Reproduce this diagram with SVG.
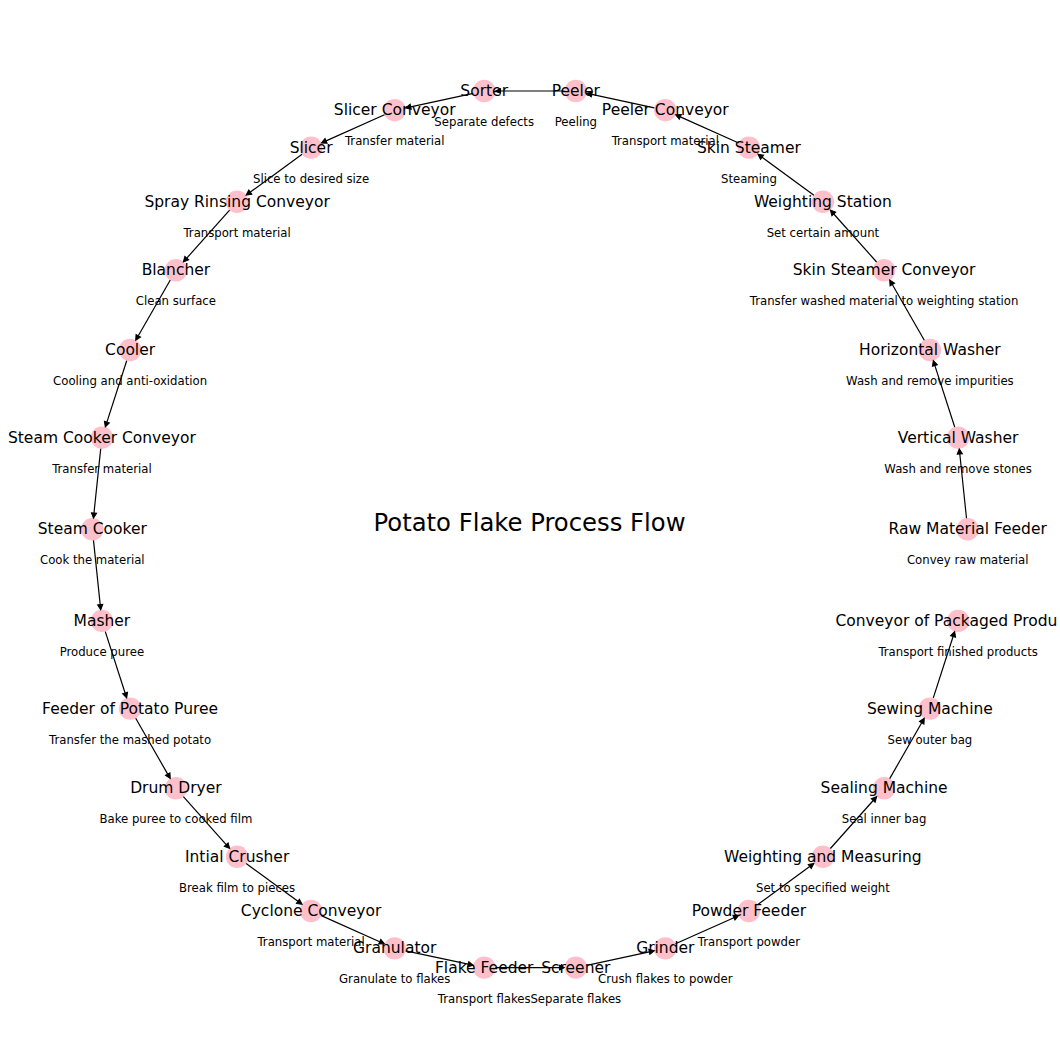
<svg xmlns="http://www.w3.org/2000/svg" width="1060" height="1060" viewBox="0 0 1060 1060">
<style>
.node circle{fill:#ffc0cb;stroke:none}
.name{font-family:"DejaVu Sans",sans-serif;font-size:15.5px;fill:#000;text-anchor:middle;dominant-baseline:central}
.desc{font-family:"DejaVu Sans",sans-serif;font-size:11.7px;fill:#000;text-anchor:middle;dominant-baseline:central}
.title{font-family:"DejaVu Sans",sans-serif;font-size:24.3px;fill:#000;text-anchor:middle;dominant-baseline:central}
#edges line{stroke:#000;stroke-width:1.2;marker-end:url(#arr)}
</style>
<defs>
<marker id="arr" markerUnits="userSpaceOnUse" markerWidth="8" markerHeight="8" viewBox="-1 -4 8 8" refX="0" refY="0" orient="auto" overflow="visible">
<path d="M0,-2.6 L5.2,0 L0,2.6 z" fill="#000" stroke="#000" stroke-width="1" stroke-linejoin="miter"/>
</marker>
</defs>
<rect width="1060" height="1060" fill="#fff"/>
<g id="nodes-circles">
<g class="node" id="n0"><circle cx="967.7" cy="529.3" r="11.2"/></g>
<g class="node" id="n1"><circle cx="958.1" cy="437.7" r="11.2"/></g>
<g class="node" id="n2"><circle cx="929.9" cy="350.0" r="11.2"/></g>
<g class="node" id="n3"><circle cx="884.1" cy="270.3" r="11.2"/></g>
<g class="node" id="n4"><circle cx="822.9" cy="201.8" r="11.2"/></g>
<g class="node" id="n5"><circle cx="748.9" cy="147.6" r="11.2"/></g>
<g class="node" id="n6"><circle cx="665.3" cy="110.2" r="11.2"/></g>
<g class="node" id="n7"><circle cx="575.8" cy="91.0" r="11.2"/></g>
<g class="node" id="n8"><circle cx="484.2" cy="91.0" r="11.2"/></g>
<g class="node" id="n9"><circle cx="394.7" cy="110.2" r="11.2"/></g>
<g class="node" id="n10"><circle cx="311.1" cy="147.6" r="11.2"/></g>
<g class="node" id="n11"><circle cx="237.1" cy="201.8" r="11.2"/></g>
<g class="node" id="n12"><circle cx="175.9" cy="270.3" r="11.2"/></g>
<g class="node" id="n13"><circle cx="130.1" cy="350.0" r="11.2"/></g>
<g class="node" id="n14"><circle cx="101.9" cy="437.7" r="11.2"/></g>
<g class="node" id="n15"><circle cx="92.3" cy="529.3" r="11.2"/></g>
<g class="node" id="n16"><circle cx="101.9" cy="620.9" r="11.2"/></g>
<g class="node" id="n17"><circle cx="130.1" cy="708.6" r="11.2"/></g>
<g class="node" id="n18"><circle cx="175.9" cy="788.3" r="11.2"/></g>
<g class="node" id="n19"><circle cx="237.1" cy="856.8" r="11.2"/></g>
<g class="node" id="n20"><circle cx="311.1" cy="911.0" r="11.2"/></g>
<g class="node" id="n21"><circle cx="394.7" cy="948.4" r="11.2"/></g>
<g class="node" id="n22"><circle cx="484.2" cy="967.6" r="11.2"/></g>
<g class="node" id="n23"><circle cx="575.8" cy="967.6" r="11.2"/></g>
<g class="node" id="n24"><circle cx="665.3" cy="948.4" r="11.2"/></g>
<g class="node" id="n25"><circle cx="748.9" cy="911.0" r="11.2"/></g>
<g class="node" id="n26"><circle cx="822.9" cy="856.8" r="11.2"/></g>
<g class="node" id="n27"><circle cx="884.1" cy="788.3" r="11.2"/></g>
<g class="node" id="n28"><circle cx="929.9" cy="708.6" r="11.2"/></g>
<g class="node" id="n29"><circle cx="958.1" cy="620.9" r="11.2"/></g>
</g>
<g id="edges">
<line x1="966.5" y1="518.2" x2="959.8" y2="454.0"/>
<line x1="954.7" y1="427.0" x2="934.9" y2="365.6"/>
<line x1="924.3" y1="340.3" x2="892.3" y2="284.5"/>
<line x1="876.6" y1="262.0" x2="833.8" y2="214.0"/>
<line x1="813.9" y1="195.2" x2="762.1" y2="157.3"/>
<line x1="738.7" y1="143.0" x2="680.3" y2="116.9"/>
<line x1="654.3" y1="107.9" x2="591.8" y2="94.4"/>
<line x1="564.6" y1="91.0" x2="500.6" y2="91.0"/>
<line x1="473.2" y1="93.3" x2="410.7" y2="106.8"/>
<line x1="384.5" y1="114.8" x2="326.1" y2="140.9"/>
<line x1="302.1" y1="154.2" x2="250.3" y2="192.1"/>
<line x1="229.6" y1="210.2" x2="186.8" y2="258.1"/>
<line x1="170.3" y1="280.0" x2="138.3" y2="335.8"/>
<line x1="126.7" y1="360.7" x2="106.9" y2="422.1"/>
<line x1="100.7" y1="448.8" x2="94.0" y2="513.0"/>
<line x1="93.5" y1="540.4" x2="100.2" y2="604.6"/>
<line x1="105.3" y1="631.6" x2="125.1" y2="693.0"/>
<line x1="135.7" y1="718.3" x2="167.7" y2="774.1"/>
<line x1="183.4" y1="796.7" x2="226.2" y2="844.6"/>
<line x1="246.1" y1="863.4" x2="297.9" y2="901.3"/>
<line x1="321.3" y1="915.6" x2="379.7" y2="941.7"/>
<line x1="405.6" y1="950.8" x2="468.2" y2="964.2"/>
<line x1="495.4" y1="967.6" x2="559.4" y2="967.6"/>
<line x1="586.8" y1="965.3" x2="649.3" y2="951.8"/>
<line x1="675.5" y1="943.8" x2="733.9" y2="917.7"/>
<line x1="757.9" y1="904.4" x2="809.7" y2="866.5"/>
<line x1="830.4" y1="848.5" x2="873.2" y2="800.5"/>
<line x1="889.7" y1="778.6" x2="921.7" y2="722.8"/>
<line x1="933.3" y1="697.9" x2="953.1" y2="636.5"/>
</g>
<g id="labels">
<g id="l0"><text class="name" x="967.7" y="529.3">Raw Material Feeder</text><text class="desc" x="967.7" y="560.3">Convey raw material</text></g>
<g id="l1"><text class="name" x="958.1" y="437.7">Vertical Washer</text><text class="desc" x="958.1" y="468.7">Wash and remove stones</text></g>
<g id="l2"><text class="name" x="929.9" y="350.0">Horizontal Washer</text><text class="desc" x="929.9" y="381.0">Wash and remove impurities</text></g>
<g id="l3"><text class="name" x="884.1" y="270.3">Skin Steamer Conveyor</text><text class="desc" x="884.1" y="301.3">Transfer washed material to weighting station</text></g>
<g id="l4"><text class="name" x="822.9" y="201.8">Weighting Station</text><text class="desc" x="822.9" y="232.8">Set certain amount</text></g>
<g id="l5"><text class="name" x="748.9" y="147.6">Skin Steamer</text><text class="desc" x="748.9" y="178.6">Steaming</text></g>
<g id="l6"><text class="name" x="665.3" y="110.2">Peeler Conveyor</text><text class="desc" x="665.3" y="141.2">Transport material</text></g>
<g id="l7"><text class="name" x="575.8" y="91.0">Peeler</text><text class="desc" x="575.8" y="122.0">Peeling</text></g>
<g id="l8"><text class="name" x="484.2" y="91.0">Sorter</text><text class="desc" x="484.2" y="122.0">Separate defects</text></g>
<g id="l9"><text class="name" x="394.7" y="110.2">Slicer Conveyor</text><text class="desc" x="394.7" y="141.2">Transfer material</text></g>
<g id="l10"><text class="name" x="311.1" y="147.6">Slicer</text><text class="desc" x="311.1" y="178.6">Slice to desired size</text></g>
<g id="l11"><text class="name" x="237.1" y="201.8">Spray Rinsing Conveyor</text><text class="desc" x="237.1" y="232.8">Transport material</text></g>
<g id="l12"><text class="name" x="175.9" y="270.3">Blancher</text><text class="desc" x="175.9" y="301.3">Clean surface</text></g>
<g id="l13"><text class="name" x="130.1" y="350.0">Cooler</text><text class="desc" x="130.1" y="381.0">Cooling and anti-oxidation</text></g>
<g id="l14"><text class="name" x="101.9" y="437.7">Steam Cooker Conveyor</text><text class="desc" x="101.9" y="468.7">Transfer material</text></g>
<g id="l15"><text class="name" x="92.3" y="529.3">Steam Cooker</text><text class="desc" x="92.3" y="560.3">Cook the material</text></g>
<g id="l16"><text class="name" x="101.9" y="620.9">Masher</text><text class="desc" x="101.9" y="651.9">Produce puree</text></g>
<g id="l17"><text class="name" x="130.1" y="708.6">Feeder of Potato Puree</text><text class="desc" x="130.1" y="739.6">Transfer the mashed potato</text></g>
<g id="l18"><text class="name" x="175.9" y="788.3">Drum Dryer</text><text class="desc" x="175.9" y="819.3">Bake puree to cooked film</text></g>
<g id="l19"><text class="name" x="237.1" y="856.8">Intial Crusher</text><text class="desc" x="237.1" y="887.8">Break film to pieces</text></g>
<g id="l20"><text class="name" x="311.1" y="911.0">Cyclone Conveyor</text><text class="desc" x="311.1" y="942.0">Transport material</text></g>
<g id="l21"><text class="name" x="394.7" y="948.4">Granulator</text><text class="desc" x="394.7" y="979.4">Granulate to flakes</text></g>
<g id="l22"><text class="name" x="484.2" y="967.6">Flake Feeder</text><text class="desc" x="484.2" y="998.6">Transport flakes</text></g>
<g id="l23"><text class="name" x="575.8" y="967.6">Screener</text><text class="desc" x="575.8" y="998.6">Separate flakes</text></g>
<g id="l24"><text class="name" x="665.3" y="948.4">Grinder</text><text class="desc" x="665.3" y="979.4">Crush flakes to powder</text></g>
<g id="l25"><text class="name" x="748.9" y="911.0">Powder Feeder</text><text class="desc" x="748.9" y="942.0">Transport powder</text></g>
<g id="l26"><text class="name" x="822.9" y="856.8">Weighting and Measuring</text><text class="desc" x="822.9" y="887.8">Set to specified weight</text></g>
<g id="l27"><text class="name" x="884.1" y="788.3">Sealing Machine</text><text class="desc" x="884.1" y="819.3">Seal inner bag</text></g>
<g id="l28"><text class="name" x="929.9" y="708.6">Sewing Machine</text><text class="desc" x="929.9" y="739.6">Sew outer bag</text></g>
<g id="l29"><text class="name" x="835.4" y="620.9" style="text-anchor:start">Conveyor of Packaged Produ</text><text class="desc" x="958.1" y="651.9">Transport finished products</text></g>
</g>
<text class="title" x="529.5" y="522">Potato Flake Process Flow</text>
</svg>
